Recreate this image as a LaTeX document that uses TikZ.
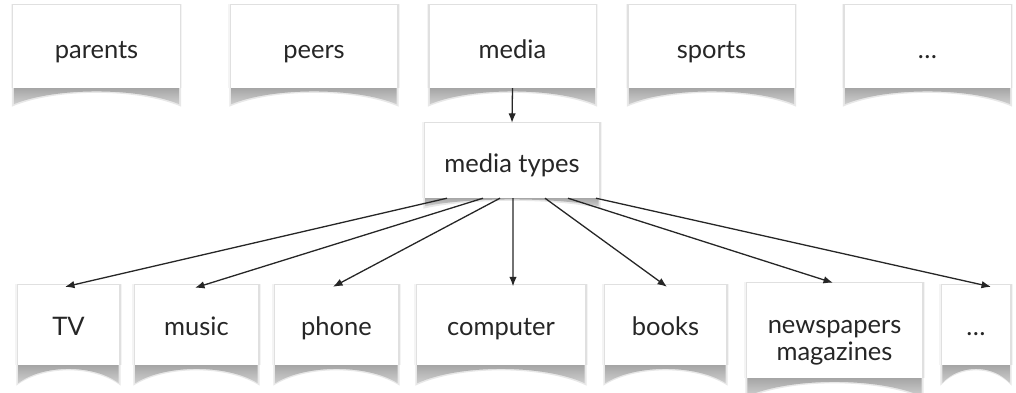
\documentclass[tikz,border=0pt]{standalone}
\usepackage{fontspec}
\setmainfont{Lato}
\usetikzlibrary{arrows.meta,calc}

\definecolor{ink}{HTML}{262626}

\pgfdeclarelayer{shadows}
\pgfsetlayers{shadows,main}

% soft edge around a sheet plus the curled shadow under its lower edge
\newcommand\papershadow[2]{%
  \fill[gray!9]  ([shift={(-2.6bp,1.2bp)}]#1.north west) rectangle ([shift={(2.6bp,0bp)}]#1.south east);
  \fill[gray!24] ([shift={(-1.3bp,0.6bp)}]#1.north west) rectangle ([shift={(1.3bp,0bp)}]#1.south east);
  \fill[gray!18]
    ([xshift=-1.5bp]#1.south west) -- ([xshift=1.5bp]#1.south east)
    -- ([xshift=1.5bp,yshift=-#2bp-2.5bp]#1.south east)
    .. controls ($(#1.south west)!0.75!(#1.south east)+(0,0)$)
           and ($(#1.south west)!0.25!(#1.south east)+(0,0)$)
    .. ([xshift=-1.5bp,yshift=-#2bp-2.5bp]#1.south west) -- cycle;
  \shade[top color=gray!72, bottom color=gray!38]
    ([xshift=0.5bp]#1.south west) -- ([xshift=-0.5bp]#1.south east)
    -- ([xshift=-0.5bp,yshift=-#2bp]#1.south east)
    .. controls ($(#1.south west)!0.75!(#1.south east)+(0,-1)$)
           and ($(#1.south west)!0.25!(#1.south east)+(0,-1)$)
    .. ([xshift=0.5bp,yshift=-#2bp]#1.south west) -- cycle;
}

\begin{document}
\begin{tikzpicture}[x=1bp,y=-1bp,
  paper/.style={fill=white, draw=none, inner sep=0pt, text=ink,
    font=\fontsize{25.5bp}{25bp}\selectfont},
  uprow/.style={paper, minimum width=166bp, minimum height=83bp,
    text height=26bp, text depth=3bp},
  lowrow/.style={paper, minimum height=80bp,
    text height=24bp, text depth=4bp},
  link/.style={draw=ink, line width=1.3bp,
    -{Latex[length=9.5bp,width=7.5bp]}}]

\useasboundingbox (0,0) rectangle (1016,392);

% sources
\node[uprow] (parents) at (96.5,46.5)  {parents};
\node[uprow] (peers)   at (314,46.5)   {peers};
\node[uprow] (media)   at (512.5,46.5) {media};
\node[uprow] (sports)  at (711.5,46.5) {sports};
\node[uprow] (moresrc) at (927.5,46.5) {\dots};

% middle level
\node[paper, minimum width=174bp, minimum height=75bp,
      text height=26bp, text depth=3bp] (types) at (512,160.5) {media types};

% kinds of media
\node[lowrow, minimum width=101bp] (tv)       at (68.5,325)  {TV};
\node[lowrow, minimum width=123bp] (music)    at (196.5,325) {music};
\node[lowrow, minimum width=123bp] (phone)    at (336.5,325) {phone};
\node[lowrow, minimum width=168bp] (computer) at (501,325)   {computer};
\node[lowrow, minimum width=121bp] (books)    at (665.5,325) {books};
\node[paper, minimum width=175bp, minimum height=95bp,
      text height=62bp, text depth=3bp] (press) at (834.5,330.5)
  {\begin{tabular}[b]{@{}c@{}}newspapers\\magazines\end{tabular}};
\node[lowrow, minimum width=68bp] (moretype) at (976,325) {\dots};

\begin{pgfonlayer}{shadows}
  \foreach \n in {parents,peers,media,sports,moresrc}
    {\papershadow{\n}{16}}
  \papershadow{types}{8}
  \foreach \n in {tv,music,phone,computer,books,press,moretype}
    {\papershadow{\n}{18}}
\end{pgfonlayer}

% connectors
\draw[link] (media.south) -- (types.north);
\draw[link] ([xshift=-65bp]types.south) -- ([xshift=-3.5bp,yshift=-2bp]tv.north);
\draw[link] ([xshift=-29bp]types.south) -- ([xshift=-1.5bp,yshift=-3bp]music.north);
\draw[link] ([xshift=-12bp]types.south) -- ([xshift=-3.5bp,yshift=-2bp]phone.north);
\draw[link] ([xshift=1bp]types.south)   -- ([xshift=12bp,yshift=-1.5bp]computer.north);
\draw[link] ([xshift=33bp]types.south)  -- ([xshift=1.5bp,yshift=-2bp]books.north);
\draw[link] ([xshift=56bp]types.south)  -- ([xshift=-1.5bp,yshift=0bp]press.north);
\draw[link] ([xshift=84bp]types.south)  -- ([xshift=15bp,yshift=-2bp]moretype.north);
\end{tikzpicture}
\end{document}
